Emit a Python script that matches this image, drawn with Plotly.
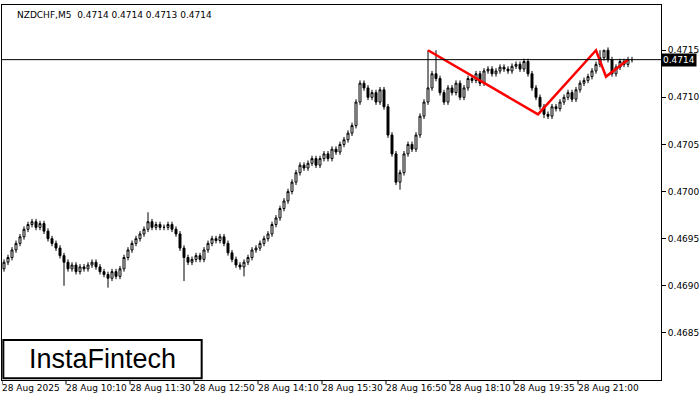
import plotly.graph_objects as go

# close prices of NZDCHF M5 bars, starting 28 Aug 08:50
closes = [
    .46925, .46930, .46938, .46945, .46952, .46960, .46965, .46968, .46962, .46966,
    .46958, .46950, .46945, .46940, .46932, .46925, .46918, .46922, .46915, .46920,
    .46918, .46922, .46925, .46920, .46915, .46912, .46908, .46915, .46910, .46918,
    .46930, .46938, .46945, .46950, .46955, .46960, .46968, .46962, .46965, .46962,
    .46962, .46965, .46960, .46955, .46940, .46930, .46925, .46928, .46932, .46928,
    .46938, .46945, .46950, .46948, .46952, .46945, .46935, .46928, .46922, .46920,
    .46925, .46930, .46938, .46940, .46945, .46950, .46955, .46965, .46972, .46982,
    .46990, .47000, .47010, .47020, .47028, .47025, .47030, .47035, .47028, .47035,
    .47040, .47035, .47045, .47042, .47050, .47055, .47062, .47070, .47095, .47115,
    .47110, .47100, .47105, .47095, .47108, .47090, .47060, .47040, .47010, .47020,
    .47040, .47050, .47045, .47060, .47080, .47095, .47110, .47125, .47120, .47105,
    .47095, .47110, .47105, .47115, .47100, .47110, .47120, .47118, .47125, .47115,
    .47128, .47130, .47125, .47128, .47132, .47130, .47128, .47133, .47135, .47130,
    .47138, .47125, .47110, .47100, .47090, .47082, .47080, .47090, .47088, .47095,
    .47100, .47105, .47098, .47108, .47115, .47118, .47122, .47128, .47135, .47142,
    .47150, .47140, .47125, .47132, .47138, .47135, .47140, .47140,
]
first_open = 0.46918
# bars with notably long wicks: index -> (high, low)
long_wicks = {15: (None, .46900), 26: (None, .46898), 36: (.46978, None), 45: (None, .46905),
              60: (None, .46910), 99: (None, .47002), 106: (.47150, None), 108: (.47150, None),
              135: (None, .47078), 149: (.47150, None), 150: (.47150, None)}

tick_bars = [0, 16, 32, 48, 64, 80, 96, 112, 128, 144]
tick_text = ["28 Aug 2025", "28 Aug 10:10", "28 Aug 11:30", "28 Aug 12:50", "28 Aug 14:10",
             "28 Aug 15:30", "28 Aug 16:50", "28 Aug 18:10", "28 Aug 19:35", "28 Aug 21:00"]
price_ticks = [0.4685, 0.4690, 0.4695, 0.4700, 0.4705, 0.4710, 0.4715]
pattern_x = [106, 133.5, 148, 150.5, 156]
pattern_y = [0.47150, 0.47082, 0.47150, 0.47122, 0.47140]
last_price = 0.4714

opens = [first_open] + closes[:-1]
wick = 0.00003
highs, lows = [], []
for i, (o, c) in enumerate(zip(opens, closes)):
    h, l = max(o, c) + wick, min(o, c) - wick
    if i in long_wicks:
        hh, ll = long_wicks[i]
        h = hh if hh else h
        l = ll if ll else l
    highs.append(h)
    lows.append(l)

x = list(range(len(closes)))
fig = go.Figure()
fig.add_trace(go.Candlestick(
    x=x, open=opens, high=highs, low=lows, close=closes,
    increasing=dict(line=dict(color="black", width=1), fillcolor="white"),
    decreasing=dict(line=dict(color="black", width=1), fillcolor="black"),
    whiskerwidth=0, showlegend=False, hoverinfo="skip"))
fig.add_trace(go.Scatter(x=pattern_x, y=pattern_y, mode="lines",
                         line=dict(color="red", width=2.5), showlegend=False))
fig.add_hline(y=last_price, line=dict(color="black", width=1))

fig.update_layout(
    width=700, height=400, margin=dict(l=2, r=39, t=5, b=20, autoexpand=False),
    paper_bgcolor="white", plot_bgcolor="white",
    font=dict(family="DejaVu Sans", size=9, color="black"),
    xaxis=dict(range=[-0.5, 164.25], showticklabels=False, ticks="", showgrid=False,
               zeroline=False, rangeslider=dict(visible=False), automargin=False,
               showline=True, linecolor="black", mirror=True),
    yaxis=dict(range=[0.46800, 0.47198], side="right", tickvals=price_ticks,
               tickformat=".4f", ticks="outside", ticklen=4, tickcolor="black",
               automargin=False, tickfont=dict(size=9),
               showgrid=False, zeroline=False, showline=True, linecolor="black", mirror=True),
)
for b, t in zip(tick_bars, tick_text):
    fig.add_annotation(x=b - 0.5, y=0, yref="paper", yanchor="top", xanchor="left",
                       text=t, showarrow=False, font=dict(size=9), xshift=-2, yshift=-1)
    fig.add_shape(type="line", x0=b - 0.5, x1=b - 0.5, y0=0, y1=-0.012, yref="paper",
                  line=dict(color="black", width=1))
fig.add_annotation(x=1, xref="paper", y=last_price, xanchor="left", text="0.4714",
                   showarrow=False, bgcolor="black", font=dict(color="white", size=9),
                   borderpad=1, xshift=0)
fig.add_annotation(x=0.02, xref="paper", y=1, yref="paper", xanchor="left", yanchor="top",
                   text="NZDCHF,M5  0.4714 0.4714 0.4713 0.4714", showarrow=False,
                   font=dict(size=9), yshift=-3)
fig.add_shape(type="rect", xref="paper", yref="paper", x0=0.002, x1=0.303, y0=0.005, y1=0.107,
              fillcolor="white", line=dict(color="black", width=2))
fig.add_annotation(x=0.152, xref="paper", y=0.056, yref="paper", xanchor="center",
                   yanchor="middle", text="InstaFintech", showarrow=False,
                   font=dict(family="Liberation Sans", size=27, color="black"))
fig.write_html("out.html", config={"displayModeBar": False},
               post_script="document.body.style.margin='0';")
